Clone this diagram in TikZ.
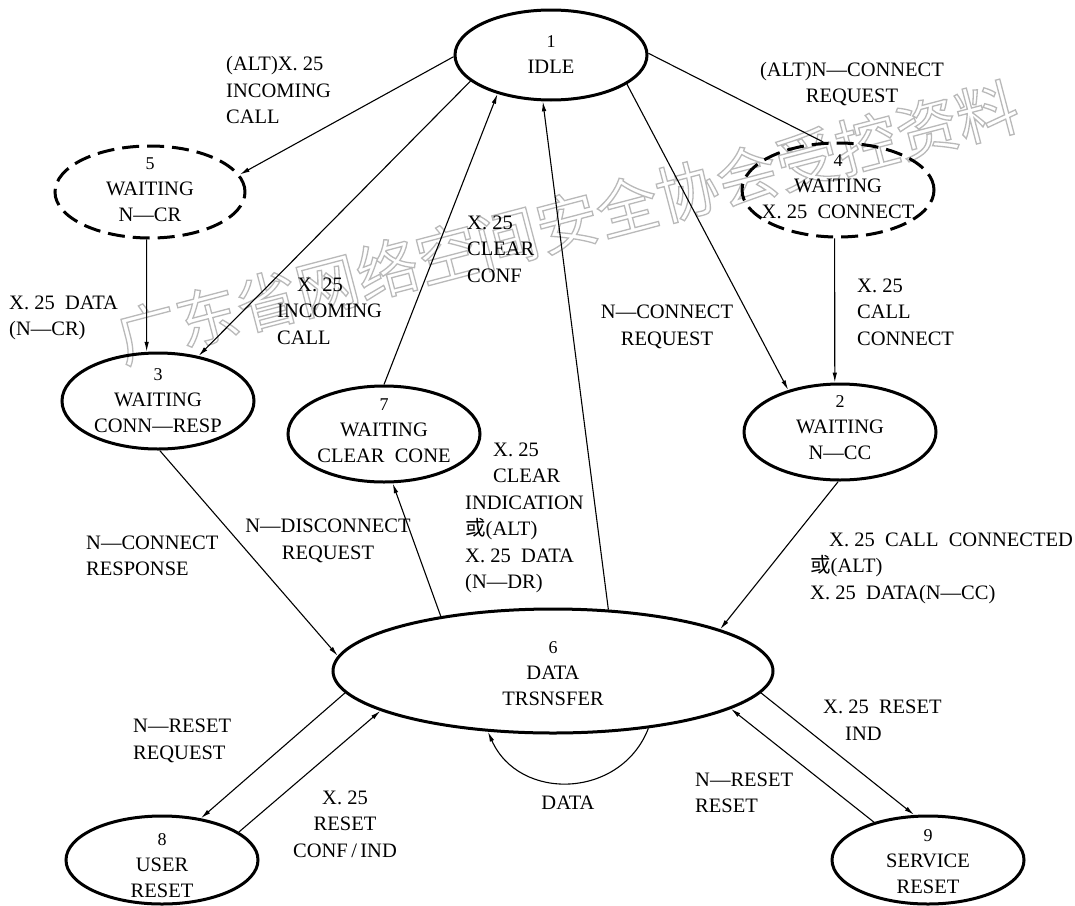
\documentclass[tikz,border=0pt]{standalone}
\usepackage{fontspec}
\setmainfont{Liberation Serif}
\newfontfamily\cjk{Noto Sans CJK SC}
\usetikzlibrary{shapes.geometric,arrows.meta}
\newcommand\huo{{\cjk 或}}
\newcommand\numf{\fontsize{18}{26}\selectfont}
\newcommand\outlinetext[1]{\special{pdf:literal direct 1 Tr 1.3 w}#1\special{pdf:literal direct 0 Tr}}
\begin{document}
\begin{tikzpicture}[x=1pt,y=-1pt,
  st/.style={ellipse, draw, line width=3pt, inner sep=0pt},
  sdash/.style={st, dash pattern=on 17pt off 8pt},
  txt/.style={align=center, inner sep=0pt, font=\fontsize{20.5}{26}\selectfont},
  lbl/.style={inner sep=0pt, font=\fontsize{20.5}{26.5}\selectfont},
  tr/.style={line width=1.1pt, -{Latex[length=10pt,width=4.5pt]}},
  trn/.style={line width=1.1pt}]
\useasboundingbox (0,0) rectangle (1075,905);

% watermark
\node[rotate=14.7, inner sep=0pt, font=\cjk\fontsize{62}{62}\selectfont, text=gray!55] (wm) at (567,222)
  {\outlinetext{广东省网络空间安全协会受控资料}};

% states
\node[st, minimum width=192pt, minimum height=90pt] (n1) at (551,55) {};
\node[sdash, minimum width=190pt, minimum height=92pt] (n5) at (150,192) {};
\node[sdash, minimum width=192pt, minimum height=94pt] (n4) at (838,190) {};
\node[st, minimum width=192pt, minimum height=96pt] (n3) at (158,401) {};
\node[st, minimum width=192pt, minimum height=96pt] (n7) at (384,434) {};
\node[st, minimum width=192pt, minimum height=96pt] (n2) at (840,432) {};
\node[st, minimum width=440pt, minimum height=124pt] (n6) at (553,671) {};
\node[st, minimum width=192pt, minimum height=88pt] (n8) at (162,860) {};
\node[st, minimum width=192pt, minimum height=88pt] (n9) at (928,860) {};

\node[txt] (t1) at (551,55) {{\numf 1}\\IDLE};
\node[txt] (t5) at (150,190) {{\numf 5}\\WAITING\\N—CR};
\node[txt] (t4) at (838,187) {{\numf 4}\\WAITING\\X. 25\ \ CONNECT};
\node[txt] (t3) at (158,401) {{\numf 3}\\WAITING\\CONN—RESP};
\node[txt] (t7) at (384,431) {{\numf 7}\\WAITING\\CLEAR\ \ CONE};
\node[txt] (t2) at (840,428) {{\numf 2}\\WAITING\\N—CC};
\node[txt] (t6) at (553,674) {{\numf 6}\\DATA\\TRSNSFER};
\node[txt] (t8) at (162,866) {{\numf 8}\\USER\\RESET};
\node[txt] (t9) at (928,862) {{\numf 9}\\SERVICE\\RESET};

% transitions
\draw[tr] (n1.181) -- (n5.11);
\draw[tr] (n1.198) -- (n3.48);
\draw[tr] (n5.266) -- (n3.103);
\draw[tr] (n7.90) -- (n1.216);
\draw[tr] (n6.48) -- (n1.260);
\draw[tr] (n1.339) -- (n2.141);
\draw[trn] (n1.1) -- (n4.107);
\draw[tr] (n4.266) -- (n2.96);
\draw[tr] (n3.272) -- (n6.176);
\draw[tr] (n6.154) -- (n7.280);
\draw[tr] (n2.268) -- (n6.14);
\draw[tr] (n6.186) -- (n8.47);
\draw[tr] (n8.20) -- (n6.193);
\draw[tr] (n6.354) -- (n9.107);
\draw[tr] (n9.145) -- (n6.348);
\draw[tr] (n6.329) .. controls (621,799) and (519,802) .. (n6.223);

% labels
\node[lbl, align=left, anchor=west] (l1) at (226,90) {(ALT)X. 25\\INCOMING\\CALL};
\node[lbl, align=left, anchor=west] (l2) at (9,318) {X. 25\ \ DATA\\(N—CR)};
\node[lbl, align=left, anchor=west] (l3) at (277,311) {\hspace*{20pt}X. 25\\INCOMING\\CALL};
\node[lbl, align=left, anchor=west] (l4) at (467,249) {X. 25\\CLEAR\\CONF};
\node[lbl, align=center] (l5) at (852,84) {(ALT)N—CONNECT\\REQUEST};
\node[lbl, align=center] (l6) at (667,327) {N—CONNECT\\REQUEST};
\node[lbl, align=left, anchor=west] (l7) at (857,312) {X. 25\\CALL\\CONNECT};
\node[lbl, align=left, anchor=west] (l8) at (86,556) {N—CONNECT\\RESPONSE};
\node[lbl, align=center] (l9) at (328,541) {N—DISCONNECT\\REQUEST};
\node[lbl, align=left, anchor=west] (l10) at (465,518) {\hspace*{28pt}X. 25\\\hspace*{28pt}CLEAR\\INDICATION\\\huo(ALT)\\X. 25\ \ DATA\\(N—DR)};
\node[lbl, align=left, anchor=west] (l11) at (810,568) {\hspace*{19pt}X. 25\ \ CALL\ \ CONNECTED\\\huo(ALT)\\X. 25\ \ DATA(N—CC)};
\node[lbl, align=left, anchor=west] (l12) at (133,741) {N—RESET\\REQUEST};
\node[lbl, align=center] (l13) at (345,824) {X. 25\\RESET\\CONF\,/\,IND};
\node[lbl] (l14) at (568,803) {DATA};
\node[lbl, align=left, anchor=west] (l15) at (823,720) {X. 25\ \ RESET\\\hspace*{22pt}IND};
\node[lbl, align=left, anchor=west] (l16) at (695,793) {N—RESET\\RESET};
\end{tikzpicture}
\end{document}
